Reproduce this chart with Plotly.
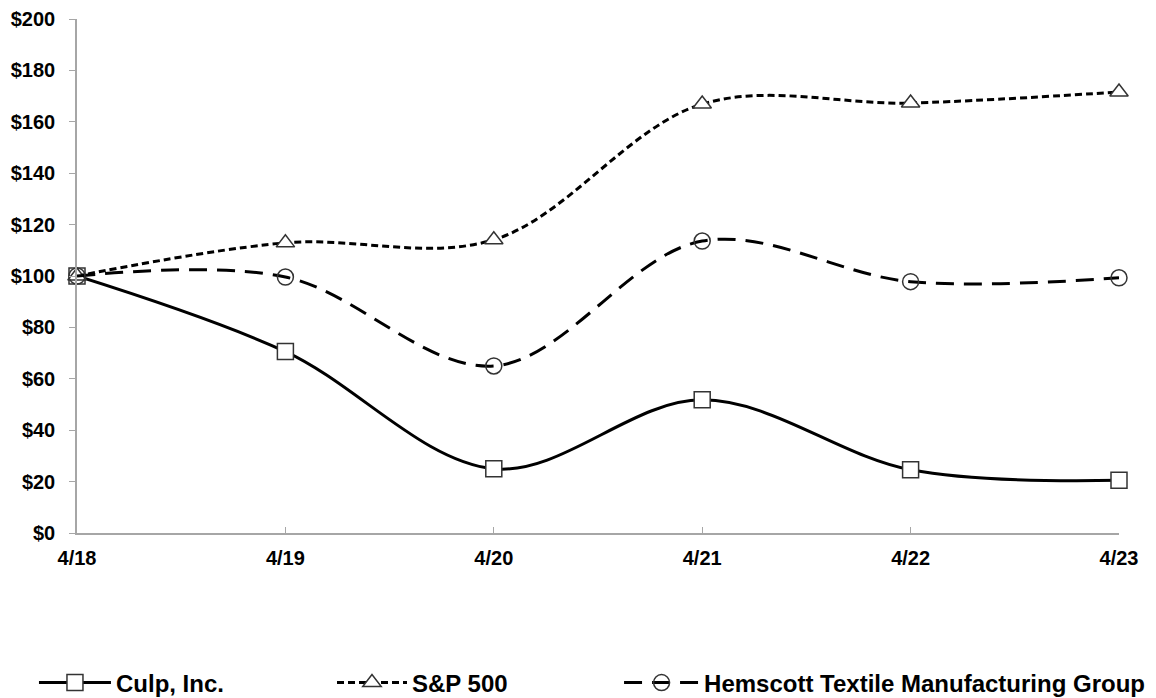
import plotly.graph_objects as go

categories = ["4/18", "4/19", "4/20", "4/21", "4/22", "4/23"]
culp = [100, 70.6, 25.0, 51.8, 24.6, 20.5]
sp500 = [100, 112.9, 114.1, 166.9, 167.3, 171.6]
hemscott = [100, 99.6, 65.0, 113.6, 97.8, 99.3]
y_ticks = [0, 20, 40, 60, 80, 100, 120, 140, 160, 180, 200]
y_tick_labels = ["$" + str(v) for v in y_ticks]

FONT = "Liberation Sans, Arial, sans-serif"
MK = "#333333"

fig = go.Figure()

fig.add_trace(go.Scatter(
    x=categories, y=culp, name="Culp, Inc.", mode="lines+markers", cliponaxis=False,
    line=dict(color="black", width=3, shape="spline", smoothing=1.0),
    marker=dict(symbol="square", size=16, color="white", line=dict(color=MK, width=1.5)),
    legend="legend",
))
fig.add_trace(go.Scatter(
    x=categories, y=sp500, name="S&P 500", mode="lines+markers", cliponaxis=False,
    line=dict(color="black", width=3, shape="spline", smoothing=1.0, dash="7px,4px"),
    marker=dict(symbol="triangle-up", size=16, color="white", line=dict(color=MK, width=1.5)),
    legend="legend2",
))
fig.add_trace(go.Scatter(
    x=categories, y=hemscott, name="Hemscott Textile Manufacturing Group", mode="lines+markers",
    cliponaxis=False,
    line=dict(color="black", width=3, shape="spline", smoothing=1.0, dash="18px,10px"),
    marker=dict(symbol="circle-open", size=16, color=MK, line=dict(color=MK, width=1.5)),
    legend="legend3",
))

def legend_cfg(x, itemwidth):
    return dict(
        orientation="h", yref="container", yanchor="middle", y=0.033,
        xanchor="left", x=x,
        font=dict(family=FONT, size=24, color="black", weight="bold"),
        bgcolor="rgba(0,0,0,0)", itemwidth=itemwidth,
    )

fig.update_layout(
    width=1156, height=698,
    margin=dict(l=69, r=45, t=11, b=173, autoexpand=False),
    plot_bgcolor="white", paper_bgcolor="white",
    showlegend=True,
    legend=legend_cfg(-0.0413, 72),
    legend2=legend_cfg(0.2447, 70),
    legend3=legend_cfg(0.5202, 75),
    xaxis=dict(
        type="category", range=[0, 5], showgrid=False,
        showline=True, linecolor="#a6a6a6", linewidth=1.5,
        ticks="inside", ticklen=6, tickcolor="#a6a6a6",
        ticklabelstandoff=6,
        tickfont=dict(family=FONT, size=20, color="black", weight="bold"),
        fixedrange=True,
    ),
    yaxis=dict(
        range=[0, 200], tickmode="array", tickvals=y_ticks, ticktext=y_tick_labels,
        showgrid=False,
        showline=True, linecolor="#a6a6a6", linewidth=1.5,
        ticks="outside", ticklen=6, tickcolor="#a6a6a6",
        ticklabelstandoff=10,
        tickfont=dict(family=FONT, size=20, color="black", weight="bold"),
        zeroline=False, fixedrange=True,
    ),
)

fig.write_html("out.html")
